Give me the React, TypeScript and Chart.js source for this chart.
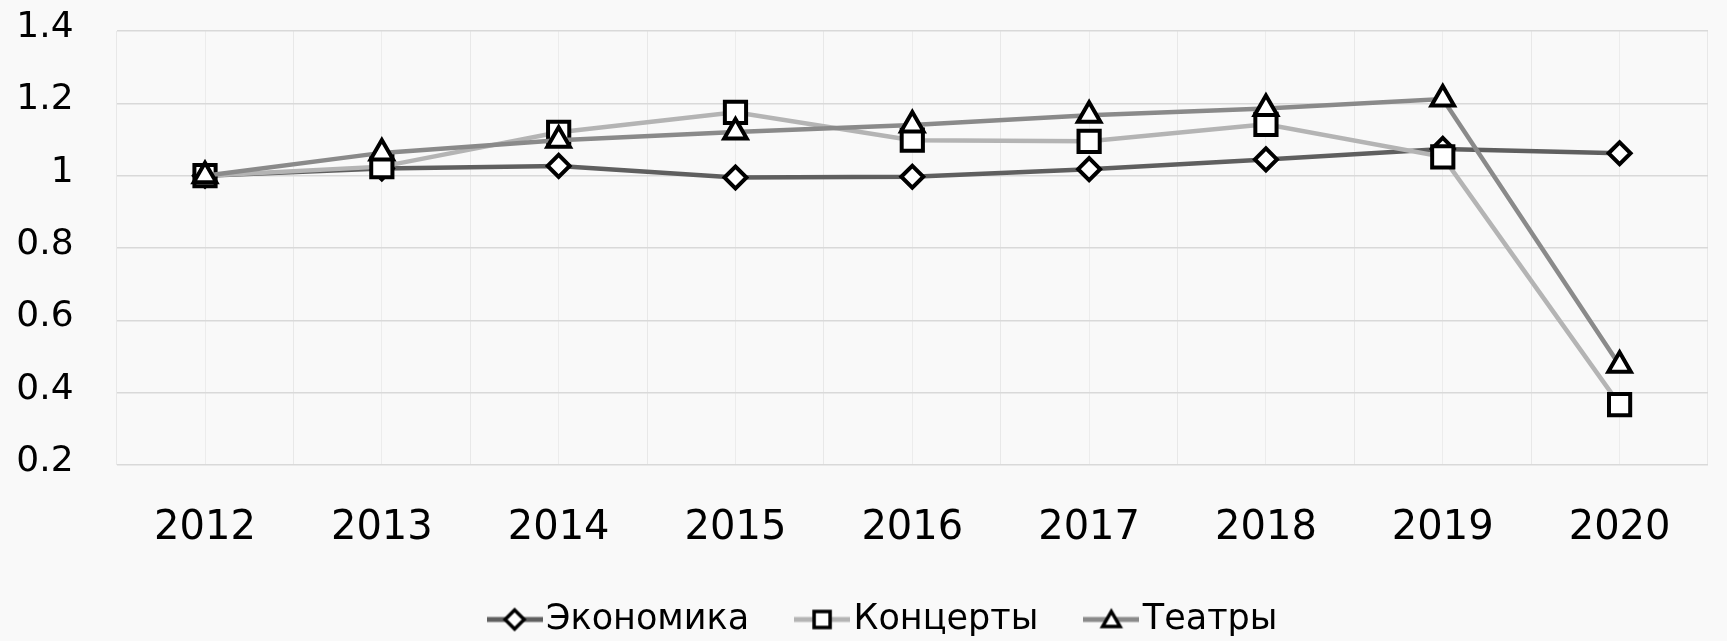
import React, { useEffect, useRef } from 'react';
import { Chart, registerables } from 'chart.js';

Chart.register(...registerables);

const categories = ['2012', '2013', '2014', '2015', '2016', '2017', '2018', '2019', '2020'];
const seriesNames = ['Экономика', 'Концерты', 'Театры'];
const economyValues = [1.0, 1.02, 1.027, 0.995, 0.997, 1.018, 1.045, 1.074, 1.062];
const concertValues = [1.0, 1.025, 1.12, 1.175, 1.098, 1.095, 1.142, 1.052, 0.367];
const theatreValues = [1.0, 1.063, 1.098, 1.121, 1.14, 1.167, 1.186, 1.212, 0.476];
const yTickValues = [0.2, 0.4, 0.6, 0.8, 1.0, 1.2, 1.4];

const FONT = 'DejaVu Sans';
const lineColors = ['#5f5f5f', '#b4b4b4', '#8a8a8a'];
const markerStyles = ['rectRot', 'rect', 'triangle'];
const markerRadii = [11, 15, 13];

function makeLegendIcon(color: string, style: string): HTMLCanvasElement {
  const c = document.createElement('canvas');
  c.width = 56;
  c.height = 30;
  const ctx = c.getContext('2d') as CanvasRenderingContext2D;
  const cx = 28;
  const cy = 15;
  ctx.strokeStyle = color;
  ctx.lineWidth = 5;
  ctx.beginPath();
  ctx.moveTo(0, cy);
  ctx.lineTo(56, cy);
  ctx.stroke();
  ctx.fillStyle = '#ffffff';
  ctx.strokeStyle = '#000000';
  ctx.lineWidth = 3.5;
  ctx.lineJoin = 'miter';
  ctx.beginPath();
  if (style === 'rectRot') {
    const r = 9.5;
    ctx.moveTo(cx, cy - r);
    ctx.lineTo(cx + r, cy);
    ctx.lineTo(cx, cy + r);
    ctx.lineTo(cx - r, cy);
    ctx.closePath();
  } else if (style === 'rect') {
    const s = 8;
    ctx.rect(cx - s, cy - s, 2 * s, 2 * s);
  } else {
    const r = 10;
    const oy = cy + 2;
    ctx.moveTo(cx, oy - r);
    ctx.lineTo(cx + r * 0.866, oy + r / 2);
    ctx.lineTo(cx - r * 0.866, oy + r / 2);
    ctx.closePath();
  }
  ctx.fill();
  ctx.stroke();
  return c;
}

const bgPlugin = {
  id: 'bgFill',
  beforeDraw(chart: any) {
    const { ctx, width, height } = chart;
    ctx.save();
    ctx.fillStyle = '#f9f9f9';
    ctx.fillRect(0, 0, width, height);
    ctx.restore();
  },
};

const legendShiftPlugin = {
  id: 'legendShift',
  afterLayout(chart: any) {
    if (chart.legend) {
      chart.legend.left += 48;
    }
  },
};

export default function App() {
  const canvasRef = useRef<HTMLCanvasElement | null>(null);

  useEffect(() => {
    if (!canvasRef.current) return;
    const values = [economyValues, concertValues, theatreValues];
    const icons = lineColors.map((c, i) => makeLegendIcon(c, markerStyles[i]));
    const chart = new Chart(canvasRef.current, {
      type: 'line',
      data: {
        labels: categories,
        datasets: seriesNames.map((name, i) => ({
          label: name,
          data: values[i],
          borderColor: lineColors[i],
          backgroundColor: lineColors[i],
          borderWidth: 4.5,
          tension: 0,
          fill: false,
          pointStyle: markerStyles[i] as any,
          pointRadius: markerRadii[i],
          pointHoverRadius: markerRadii[i],
          pointBackgroundColor: '#ffffff',
          pointBorderColor: '#000000',
          pointBorderWidth: 4,
          order: 2 - i,
        })),
      },
      options: {
        animation: false,
        responsive: true,
        maintainAspectRatio: false,
        layout: { padding: { left: 0, right: -3, top: 31, bottom: -6 } },
        plugins: {
          tooltip: { enabled: false },
          legend: {
            position: 'bottom',
            align: 'center',
            labels: {
              usePointStyle: true,
              pointStyleWidth: 28,
              padding: 59,
              color: '#000000',
              font: { family: FONT, size: 35 },
              generateLabels: (ch: any) =>
                ch.data.datasets.map((ds: any, i: number) => ({
                  text: ds.label,
                  pointStyle: icons[i],
                  fillStyle: 'transparent',
                  strokeStyle: 'transparent',
                  lineWidth: 0,
                  hidden: false,
                  datasetIndex: i,
                  fontColor: '#000000',
                })),
            },
          },
        },
        scales: {
          x: {
            type: 'category',
            offset: true,
            grid: {
              offset: true,
              color: '#e8e8e8',
              lineWidth: 1,
              drawTicks: true,
              tickLength: 40,
              tickColor: 'rgba(0,0,0,0)',
            },
            border: { display: false },
            ticks: {
              color: '#000000',
              font: { family: FONT, size: 40 },
              padding: 0,
              maxRotation: 0,
              autoSkip: false,
            },
            afterFit: (s: any) => {
              s.height = 78;
            },
          },
          x2: {
            type: 'category',
            labels: categories,
            position: 'bottom',
            offset: true,
            grid: { offset: false, color: '#ececec', lineWidth: 1, drawTicks: false },
            border: { display: false },
            ticks: { display: false, padding: 0 },
            afterFit: (s: any) => {
              s.height = 0;
            },
          },
          y: {
            min: 0.2,
            max: 1.4,
            afterBuildTicks: (axis: any) => {
              axis.ticks = yTickValues.map((v) => ({ value: v }));
            },
            grid: {
              color: '#d9d9d9',
              lineWidth: 1.5,
              drawTicks: true,
              tickLength: 43,
              tickColor: 'rgba(0,0,0,0)',
            },
            border: { display: false },
            ticks: {
              color: '#000000',
              font: { family: FONT, size: 36 },
              padding: 0,
              labelOffset: -3.5,
              callback: (v: any) => String(Math.round(Number(v) * 10) / 10),
            },
            afterFit: (s: any) => {
              s.width = 116.6;
            },
          },
        },
      } as any,
      plugins: [bgPlugin, legendShiftPlugin],
    });
    return () => chart.destroy();
  }, []);

  return (
    <div style={{ position: 'absolute', left: 0, top: 0, width: 1727, height: 641, background: '#f9f9f9' }}>
      <canvas ref={canvasRef} />
    </div>
  );
}
